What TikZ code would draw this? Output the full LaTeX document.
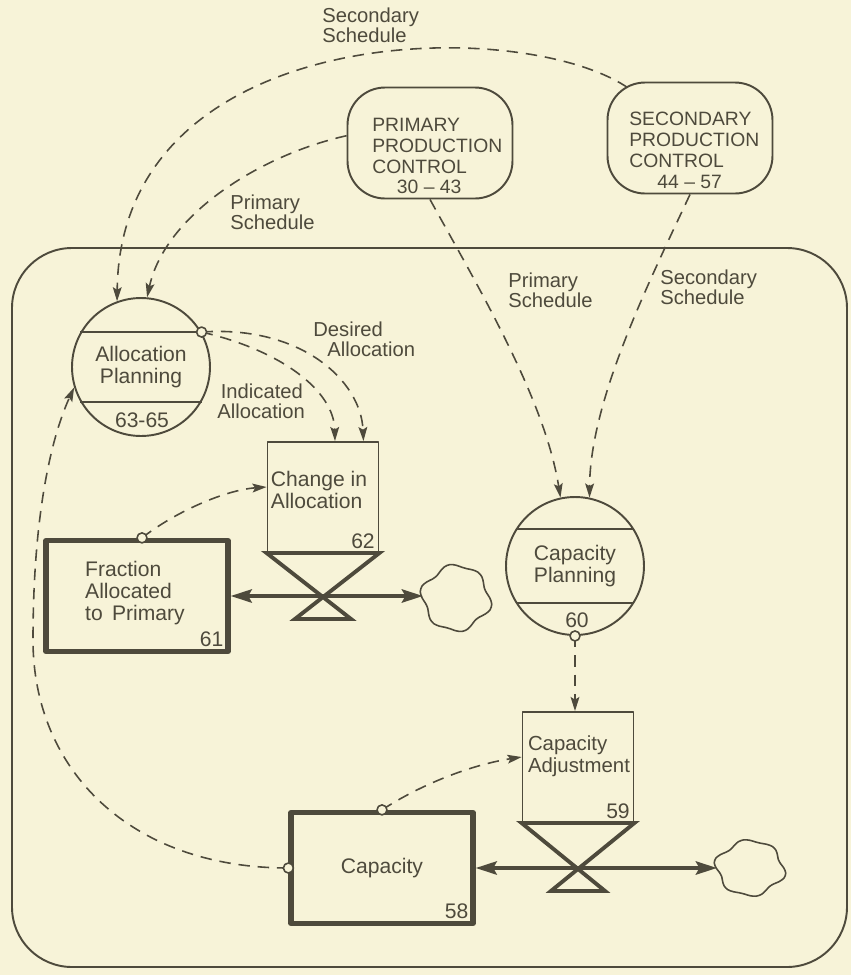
\documentclass[tikz,border=0pt]{standalone}
\usepackage{fontspec}
\setmainfont{Liberation Sans}
\usetikzlibrary{arrows.meta,calc}
\definecolor{paper}{RGB}{247,243,216}
\definecolor{ink}{RGB}{78,74,60}
\tikzset{
  thinline/.style={draw=ink,line width=1.1pt},
  link/.style={draw=ink,line width=0.9pt,dash pattern=on 6.5pt off 4.5pt,
    -{Stealth[length=8pt,width=5pt,inset=1.5pt]}},
  flow/.style={draw=ink,line width=2.2pt,
    {Stealth[length=12pt,width=7.5pt,inset=2pt]}-{Stealth[length=12pt,width=7.5pt,inset=2pt]}},
  level/.style={draw=ink,line width=3pt,minimum width=3.64cm,minimum height=2.22cm,
    inner sep=0pt,text=ink,font=\fontsize{12}{12.5}\selectfont},
  rate/.style={draw=ink,line width=1.1pt,minimum width=2.22cm,minimum height=2.2cm,inner sep=0pt},
  aux/.style={draw=ink,line width=1.1pt,circle,minimum size=2.76cm,inner sep=0pt,
    text=ink,align=center,font=\fontsize{12}{12.5}\selectfont},
  sector/.style={draw=ink,line width=1.1pt,rounded corners=0.75cm,
    minimum width=3.3cm,minimum height=2.22cm,inner sep=0pt},
  txt/.style={text=ink,align=left,inner sep=0pt,font=\fontsize{12}{12.5}\selectfont},
  caps/.style={text=ink,align=left,inner sep=0pt,font=\fontsize{11}{11.9}\selectfont},
  lbl/.style={text=ink,align=left,inner sep=0pt,font=\fontsize{11.5}{11.5}\selectfont},
  num/.style={text=ink,inner sep=2.5pt,font=\fontsize{12}{12}\selectfont},
  valve/.style={draw=ink,line width=2.2pt,line join=miter},
  tap/.style={draw=ink,fill=paper,line width=0.9pt},
  cloudline/.style={draw=ink,line width=0.9pt},
}
\begin{document}
\begin{tikzpicture}[x=0.02cm,y=-0.02cm,line join=round]
\fill[paper] (0,0) rectangle (851,975);
\useasboundingbox (0,0) rectangle (851,975);
% sector boundary
\draw[thinline,rounded corners=1.2cm] (12,248) rectangle (847,967);
% other sectors
\node[sector] (prim) at (430,143) {};
\node[caps,anchor=west] (primtxt) at (372,156) {PRIMARY\\PRODUCTION\\CONTROL\\\hspace*{14pt}30 -- 43};
\node[sector] (sec) at (690,138) {};
\node[caps,anchor=west] (sectxt) at (629,150) {SECONDARY\\PRODUCTION\\CONTROL\\\hspace*{16pt}44 -- 57};
% planning
\node[aux] (alloc) at (141,367) {Allocation\\Planning};
\draw[thinline] (alloc.150) -- (alloc.30) (alloc.210) -- (alloc.330);
\node[num] (allocnum) at (142,420) {63-65};
\node[aux] (capplan) at (575,566) {Capacity\\Planning};
\draw[thinline] (capplan.148) -- (capplan.32) (capplan.212) -- (capplan.328);
\node[num] (capplannum) at (577,620) {60};
% rates
\node[rate] (chg) at (323,497) {};
\node[txt] (chgtxt) at (319,490) {Change in\\Allocation};
\node[num,anchor=south east] (chgnum) at (chg.south east) {62};
\draw[valve] (chg.south west) -- (chg.south east) -- ($(chg.south)+(-28,66)$)
  -- ($(chg.south)+(28,66)$) -- cycle;
\node[rate] (capadj) at (578,767) {};
\node[txt,font=\fontsize{11.6}{12.5}\selectfont] (capadjtxt) at (579,756) {Capacity\\Adjustment};
\node[num,anchor=south east] (capadjnum) at (capadj.south east) {59};
\draw[valve] (capadj.south west) -- (capadj.south east) -- ($(capadj.south)+(-27,68)$)
  -- ($(capadj.south)+(27,68)$) -- cycle;
% levels
\node[level] (frac) at (137,596) {};
\node[txt] (fractxt) at (135,593) {Fraction\\Allocated\\to\ \,Primary};
\node[num,anchor=south east,inner sep=4pt] (fracnum) at (frac.south east) {61};
\node[level] (cap) at (382,868) {Capacity};
\node[num,anchor=south east,inner sep=4pt] (capnum) at (cap.south east) {58};
% clouds
\coordinate (sink1) at (423,596);
\draw[cloudline] plot[smooth cycle,samples=36,domain=0:350]
  ({456+33*cos(\x)*(1+0.07*sin(6*\x)+0.04*sin(4*\x+40))},
   {598+32*sin(\x)*(1+0.07*sin(6*\x)+0.04*sin(4*\x+40))});
\coordinate (sink2) at (717,868);
\draw[cloudline] plot[smooth cycle,samples=36,domain=0:350]
  ({750+33*cos(\x)*(1+0.07*sin(6*\x)+0.04*sin(4*\x+40))},
   {868+27*sin(\x)*(1+0.07*sin(6*\x)+0.04*sin(4*\x+40))});
% flows
\draw[flow] (frac.east) -- (sink1);
\draw[flow] (cap.east) -- (sink2);
% information links
\coordinate (fractap) at ($(frac.north)+(5,0)$);
\draw[link] ($(sec.north west)+(21,6)$) .. controls (520,15) and (120,20) .. (alloc.110);
\draw[link] (prim.175) .. controls (260,155) and (165,215) .. (alloc.85);
\draw[link] (alloc.30) .. controls (300,325) and (361,380) .. ($(chg.north east)+(-16,0)$);
\draw[link] (alloc.30) .. controls (280,350) and (334,390) .. ($(chg.north)+(12,0)$);
\draw[link] (fractap) .. controls (175,512) and (225,490) .. ($(chg.west)+(0,-10)$);
\draw[link] (prim.south) .. controls (480,290) and (545,400) .. (capplan.102);
\draw[link] (sec.south) .. controls (650,280) and (590,400) .. (capplan.78);
\draw[link] (capplan.south) -- (capplan.south |- capadj.north);
\draw[link] (cap.north) .. controls (420,785) and (470,765) .. ($(capadj.west)+(0,-10)$);
\draw[link] (cap.west) .. controls (130,868) and (33,770) .. (33,640)
  .. controls (33,520) and (50,440) .. (alloc.197);
\foreach \p in {alloc.30,fractap,capplan.south,cap.north,cap.west}
  \draw[tap] (\p) circle (0.1cm);
% labels
\node[lbl,anchor=west] (secsched) at (322,25) {Secondary\\Schedule};
\node[lbl,anchor=west] (primsched) at (230,212) {Primary\\Schedule};
\node[lbl,anchor=west] (primsched2) at (508,290) {Primary\\Schedule};
\node[lbl,anchor=west] (secsched2) at (660,287) {Secondary\\Schedule};
\node[lbl,anchor=west] (desired) at (313,339) {Desired\\\hspace*{8pt}Allocation};
\node[lbl,anchor=west] (indicated) at (217,401) {\hspace*{2pt}Indicated\\Allocation};
\end{tikzpicture}
\end{document}
